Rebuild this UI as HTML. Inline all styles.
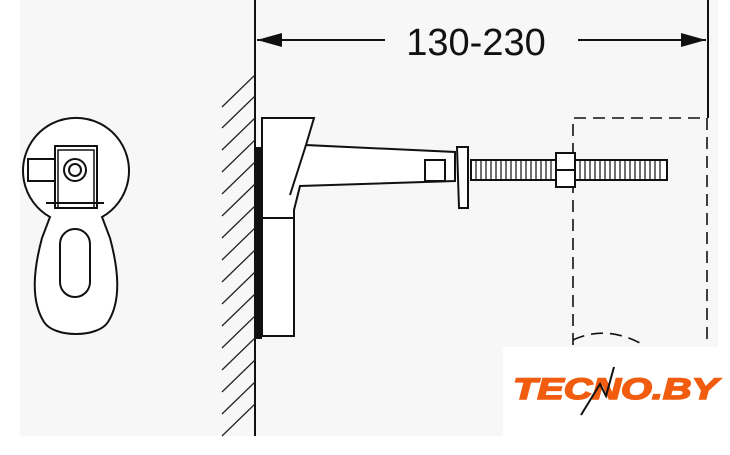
<!DOCTYPE html>
<html><head><style>
html,body{margin:0;padding:0;background:#fff;}
svg{display:block;}
</style></head><body>
<svg width="730" height="455" viewBox="0 0 730 455" xmlns="http://www.w3.org/2000/svg">
<rect x="20" y="0" width="698" height="436" fill="#f7f7f7"/>
<g fill="none" stroke="#111" stroke-width="2">
<!-- keyhole -->
<path d="M50,217 A53,53 0 1 1 102,217 L110,238 C118,268 122,300 108,322 C98,338 54,338 44,322 C30,300 34,268 42,238 Z" fill="#fff"/>
<rect x="55" y="146" width="42" height="62" />
<rect x="58" y="150" width="36" height="58" stroke-width="1.5"/>
<circle cx="75" cy="170" r="11"/>
<circle cx="75" cy="170" r="6"/>
<rect x="28" y="159" width="27" height="22"/>
<line x1="46" y1="203" x2="104" y2="203"/>
<rect x="60" y="229" width="30" height="68" rx="15"/>
<!-- wall -->
<line x1="255" y1="0" x2="255" y2="436"/>
</g>
<g stroke="#222" stroke-width="1.3">
<line x1="222" y1="107" x2="255" y2="75"/><line x1="222" y1="128" x2="255" y2="96"/>
<line x1="222" y1="150" x2="255" y2="118"/><line x1="222" y1="172" x2="255" y2="140"/>
<line x1="222" y1="194" x2="255" y2="162"/><line x1="222" y1="216" x2="255" y2="184"/>
<line x1="222" y1="238" x2="255" y2="206"/><line x1="222" y1="260" x2="255" y2="228"/>
<line x1="222" y1="282" x2="255" y2="250"/><line x1="222" y1="304" x2="255" y2="272"/>
<line x1="222" y1="326" x2="255" y2="294"/><line x1="222" y1="348" x2="255" y2="316"/>
<line x1="222" y1="370" x2="255" y2="338"/><line x1="222" y1="392" x2="255" y2="360"/>
<line x1="222" y1="414" x2="255" y2="382"/><line x1="222" y1="436" x2="255" y2="404"/>
</g>
<g fill="none" stroke="#111" stroke-width="2">
<line x1="257" y1="40" x2="385" y2="40"/><line x1="578" y1="40" x2="706" y2="40"/>
<line x1="708" y1="0" x2="708" y2="118"/>
<path d="M573,345 L573,118 L707,118 L707,345" stroke-dasharray="12,7" stroke-width="1.6"/>
<path d="M573,340 Q605,325 640,343" stroke-dasharray="12,7" stroke-width="1.6"/>
<rect x="256" y="148" width="5" height="190" fill="#111"/>
<path d="M262,118 L314,118 L306,145 L455,152 L455,181 L300,186 L294,210 L294,336 L262,336 Z" fill="#fff"/>
<path d="M262,118 L262,218 L294,218"/>
<line x1="306" y1="145" x2="290" y2="195"/>
<rect x="425" y="160" width="20" height="21"/>
<rect x="471" y="160" width="196" height="20" fill="#fff"/>
<path d="M457,147 L468,147 L468,208 L459,208 Z" fill="#fff"/>
<rect x="556" y="153" width="19" height="34" fill="#fff"/>
<line x1="556" y1="170" x2="575" y2="170"/>
</g>
<g stroke="#111" stroke-width="1.2">
<path d="M476,161V179M481,161V179M486,161V179M491,161V179M496,161V179M501,161V179M506,161V179M511,161V179M516,161V179M521,161V179M526,161V179M531,161V179M536,161V179M541,161V179M546,161V179M551,161V179M580,161V179M585,161V179M590,161V179M595,161V179M600,161V179M605,161V179M610,161V179M615,161V179M620,161V179M625,161V179M630,161V179M635,161V179M640,161V179M645,161V179M650,161V179M655,161V179M660,161V179"/>
</g>
<path d="M257,40 L282,33 L282,47 Z" fill="#111"/>
<path d="M706,40 L681,33 L681,47 Z" fill="#111"/>
<text x="476" y="55" font-family="Liberation Sans, sans-serif" font-size="38" text-anchor="middle" fill="#111">130-230</text>
<rect x="503" y="347" width="227" height="108" fill="#fff"/>
<text x="513" y="399" font-family="Liberation Sans, sans-serif" font-size="30" font-weight="bold" font-style="italic" fill="#f25c0f" stroke="#f25c0f" stroke-width="1.5" textLength="205" lengthAdjust="spacingAndGlyphs">TECNO.BY</text>
<path d="M581,415 L600,384 L606,396 L614,367" fill="none" stroke="#111" stroke-width="2"/>
</svg>
</body></html>
